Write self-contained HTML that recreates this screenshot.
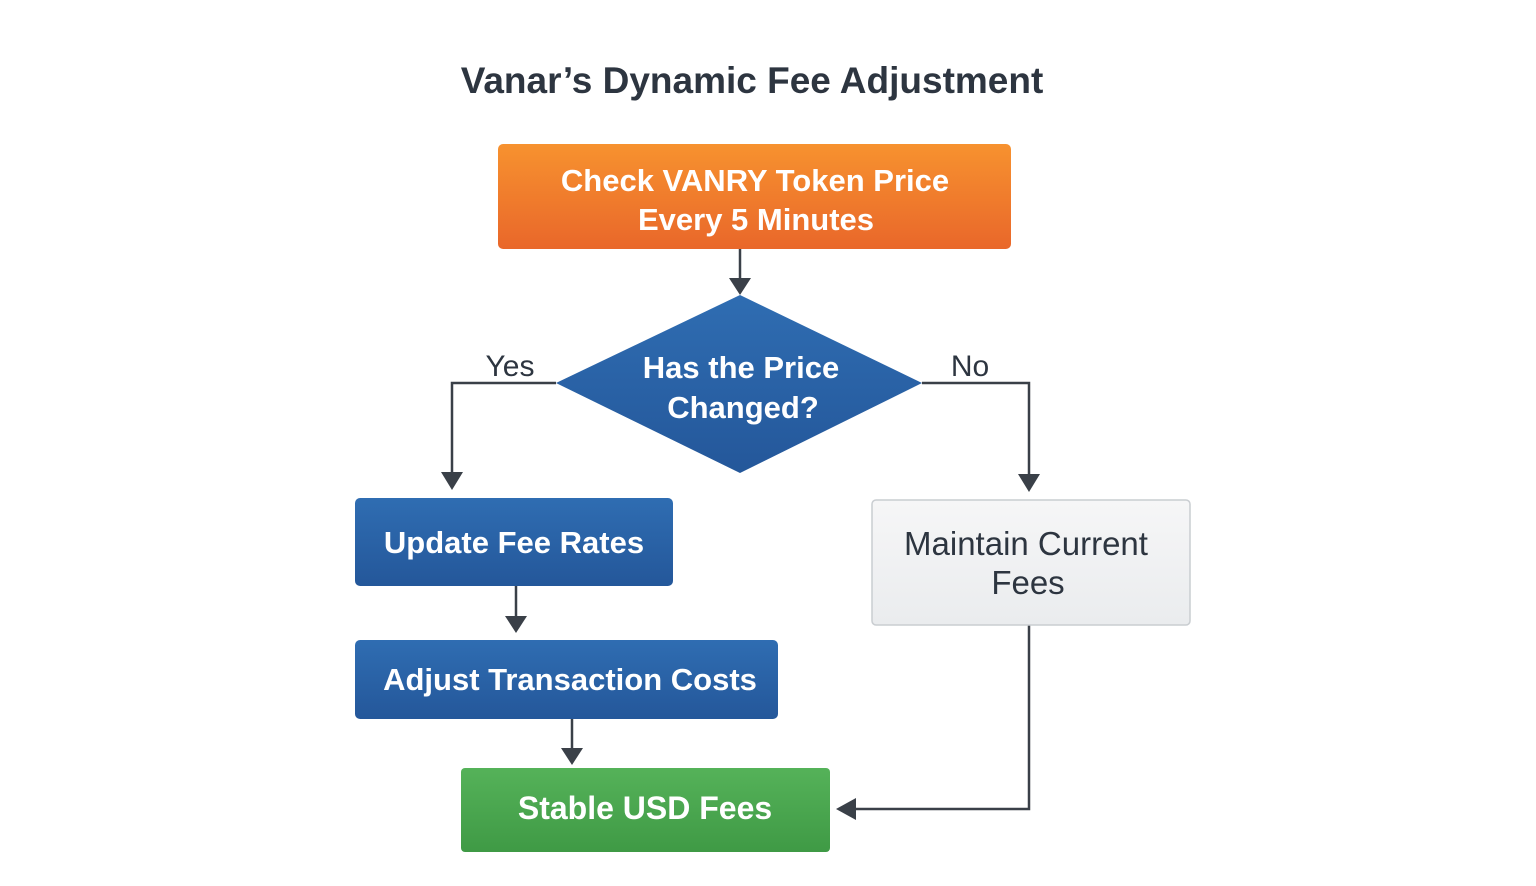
<!DOCTYPE html>
<html><head><style>body{margin:0;background:#fff}svg{display:block}</style></head><body>
<svg width="1536" height="886" viewBox="0 0 1536 886" xmlns="http://www.w3.org/2000/svg" font-family="Liberation Sans, sans-serif">
<defs>
<linearGradient id="o" x1="0" y1="0" x2="0" y2="1"><stop offset="0" stop-color="#f7922f"/><stop offset="1" stop-color="#e9672a"/></linearGradient>
<linearGradient id="b" x1="0" y1="0" x2="0" y2="1"><stop offset="0" stop-color="#2f6db2"/><stop offset="1" stop-color="#24579a"/></linearGradient>
<linearGradient id="g" x1="0" y1="0" x2="0" y2="1"><stop offset="0" stop-color="#55b259"/><stop offset="1" stop-color="#3f9a45"/></linearGradient>
<linearGradient id="w" x1="0" y1="0" x2="0" y2="1"><stop offset="0" stop-color="#f6f6f7"/><stop offset="1" stop-color="#eaecee"/></linearGradient>
</defs>
<text x="752" y="93" text-anchor="middle" font-size="37" font-weight="bold" fill="#2d3540">Vanar’s Dynamic Fee Adjustment</text>
<rect x="498" y="144" width="513" height="105" rx="5" fill="url(#o)"/>
<text x="755" y="191" text-anchor="middle" font-size="31" font-weight="bold" fill="#fff">Check VANRY Token Price</text>
<text x="756" y="230" text-anchor="middle" font-size="31" font-weight="bold" fill="#fff">Every 5 Minutes</text>
<g stroke="#3a4048" stroke-width="2.5" fill="none">
<path d="M740 249V280"/><path d="M556 383H452V474"/><path d="M922 383H1029V476"/>
<path d="M516 586V618"/><path d="M572 719V750"/><path d="M1029 625V809H854"/>
</g>
<g fill="#3a4048">
<path d="M729 278h22l-11 17z"/><path d="M441 472h22l-11 18z"/><path d="M1018 474h22l-11 18z"/>
<path d="M505 616h22l-11 17z"/><path d="M561 748h22l-11 17z"/><path d="M856 798v22l-20-11z"/>
</g>
<path d="M740 295L922 383L740 473L556 383Z" fill="url(#b)"/>
<text x="741" y="378" text-anchor="middle" font-size="31" font-weight="bold" fill="#fff">Has the Price</text>
<text x="743" y="418" text-anchor="middle" font-size="31" font-weight="bold" fill="#fff">Changed?</text>
<text x="510" y="376" text-anchor="middle" font-size="30" fill="#2d3540">Yes</text>
<text x="970" y="376" text-anchor="middle" font-size="30" fill="#2d3540">No</text>
<rect x="355" y="498" width="318" height="88" rx="5" fill="url(#b)"/>
<text x="514" y="553" text-anchor="middle" font-size="31" font-weight="bold" fill="#fff">Update Fee Rates</text>
<rect x="355" y="640" width="423" height="79" rx="5" fill="url(#b)"/>
<text x="570" y="690" text-anchor="middle" font-size="31" font-weight="bold" fill="#fff">Adjust Transaction Costs</text>
<rect x="461" y="768" width="369" height="84" rx="4" fill="url(#g)"/>
<text x="645" y="819" text-anchor="middle" font-size="32" font-weight="bold" fill="#fff">Stable USD Fees</text>
<rect x="872" y="500" width="318" height="125" rx="4" fill="url(#w)" stroke="#c9cdd1" stroke-width="1.5"/>
<text x="1026" y="555" text-anchor="middle" font-size="33" font-weight="500" fill="#2d3540">Maintain Current</text>
<text x="1028" y="594" text-anchor="middle" font-size="33" font-weight="500" fill="#2d3540">Fees</text>
</svg>
</body></html>
